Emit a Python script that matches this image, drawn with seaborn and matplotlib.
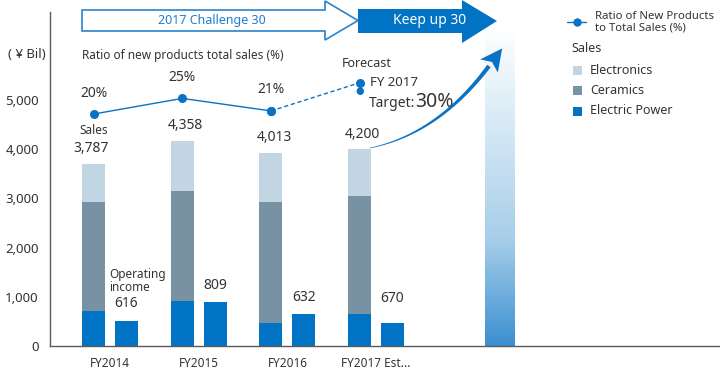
import numpy as np
import pandas as pd
import seaborn as sns
import matplotlib.pyplot as plt
from matplotlib.patches import Polygon, Rectangle
from matplotlib.colors import LinearSegmentedColormap

# data
years = ["FY2014", "FY2015", "FY2016", "FY2017 Est..."]
electric_power = [710, 920, 475, 655]
ceramics = [2220, 2230, 2460, 2395]
electronics = [770, 1020, 995, 950]
operating_income = [515, 890, 650, 475]
sales_labels = ["3,787", "4,358", "4,013", "4,200"]
income_labels = ["616", "809", "632", "670"]
ratio = [20, 25, 21, 30]
ratio_labels = ["20%", "25%", "21%"]

c_elec = "#c2d5e3"
c_cer = "#7891a3"
c_pow = "#0073c5"
c_line = "#0a72c4"
c_text = "#333333"

sns.set_style("white")
plt.rcParams["font.family"] = ["Noto Sans", "DejaVu Sans"]

fig = plt.figure(figsize=(7.2, 3.72), dpi=100)
ax = fig.add_axes([50 / 720, 26 / 372, 670 / 720, 334 / 372])

power = np.array(electric_power)
mid = power + np.array(ceramics)
top = mid + np.array(electronics)
zeros = [0, 0, 0, 0]


def layer(sales_vals, oi_vals):
    return pd.DataFrame({
        "year": years * 2,
        "kind": ["Sales"] * 4 + ["Income"] * 4,
        "value": list(sales_vals) + list(oi_vals),
    })


# stacked bars: draw cumulative totals on top of each other
layers = [
    (top, zeros, c_elec),
    (mid, zeros, c_cer),
    (power, operating_income, c_pow),
]
for s_vals, o_vals, col in layers:
    sns.barplot(data=layer(s_vals, o_vals), x="year", y="value", hue="kind",
                hue_order=["Sales", "Income"], order=years,
                palette={"Sales": col, "Income": c_pow}, dodge=True,
                width=0.74, gap=0.3, errorbar=None, saturation=1,
                linewidth=0, legend=False, ax=ax)

xs = np.arange(len(years)) - 0.185
xi = np.arange(len(years)) + 0.185

# gradient column
grad = LinearSegmentedColormap.from_list("g", ["#ffffff", "#d3e7f5", "#a6cee9", "#3b8fd1"])
ax.imshow(np.linspace(0, 1, 256).reshape(-1, 1), cmap=grad, aspect="auto",
          extent=[4.228, 4.555, 0, 6450], origin="upper", zorder=1)

ax.set_xlim(-0.676, 6.877)
ax.set_ylim(0, 6790)
ax.set_xlabel("")
ax.set_ylabel("")
ax.set_yticks([0, 1000, 2000, 3000, 4000, 5000])
ax.set_yticklabels(["0", "1,000", "2,000", "3,000", "4,000", "5,000"])
ax.tick_params(axis="y", length=0, pad=8, labelsize=9.5, labelcolor=c_text)
ax.tick_params(axis="x", length=0, pad=8, labelsize=8.5, labelcolor=c_text)
for s in ["top", "right"]:
    ax.spines[s].set_visible(False)
for s in ["left", "bottom"]:
    ax.spines[s].set_color("#5a5a5a")
    ax.spines[s].set_linewidth(1)

# bar value labels
for i in range(4):
    ax.annotate(sales_labels[i], (xs[i], top[i]), xytext=(3 if i else -2, 15),
                textcoords="offset pixels", ha="center", va="center",
                fontsize=10, color=c_text)
    ax.annotate(income_labels[i], (xi[i], operating_income[i]),
                xytext=(0, 17 if i < 3 else 24), textcoords="offset pixels",
                ha="center", va="center", fontsize=10, color=c_text)
ax.annotate("Sales", (xs[0], top[0]), xytext=(0, 33), textcoords="offset pixels",
            ha="center", va="center", fontsize=8.5, color=c_text)
ax.annotate("Operating\nincome", (xi[0], operating_income[0]), xytext=(-17, 40),
            textcoords="offset pixels", ha="left", va="center", fontsize=8.5,
            color=c_text, linespacing=1.0)

# ratio line on its own scale
ax2 = ax.twinx()
sns.lineplot(x=xs[:3], y=ratio[:3], color=c_line, marker="o", markersize=6.5,
             markeredgewidth=0, linewidth=1, ax=ax2)
sns.lineplot(x=xs[2:], y=ratio[2:], color=c_line, marker="o", markersize=6.5,
             markeredgewidth=0, linewidth=1, dashes=(3, 2), ax=ax2)
ax2.set_ylim(-54.1, 52.6)
ax2.set_xlim(ax.get_xlim())
ax2.set_axis_off()
for i in range(3):
    ax2.annotate(ratio_labels[i], (xs[i], ratio[i]), xytext=(0, 21),
                 textcoords="offset pixels", ha="center", va="center",
                 fontsize=10, color=c_text)
ax2.annotate("●", (xs[3], ratio[3]), xytext=(0, -9), textcoords="offset pixels",
             ha="center", va="center", fontsize=7, color=c_line)
ax2.annotate("Forecast", (xs[3], ratio[3]), xytext=(-18, 19),
             textcoords="offset pixels", ha="left", va="center", fontsize=9,
             color=c_text)
ax2.annotate("FY 2017", (xs[3], ratio[3]), xytext=(10, 0),
             textcoords="offset pixels", ha="left", va="center", fontsize=9.5,
             color=c_text)
ax2.annotate("Target:", (xs[3], ratio[3]), xytext=(9, -24),
             textcoords="offset pixels", ha="left", va="baseline", fontsize=10,
             color=c_text)
ax2.annotate("30%", (xs[3], ratio[3]), xytext=(56, -24),
             textcoords="offset pixels", ha="left", va="baseline", fontsize=14,
             fontweight="light", color=c_text)

# decoration layer in pixel coordinates
ov = fig.add_axes([0, 0, 1, 1])
ov.set_xlim(0, 720)
ov.set_ylim(372, 0)
ov.set_axis_off()

ov.add_patch(Polygon([(82, 10), (325, 10), (325, 1), (358, 20.5), (325, 40),
                      (325, 31), (82, 31)], closed=True, facecolor="white",
                     edgecolor="#2a83cc", linewidth=1.2))
ov.text(212, 20.5, "2017 Challenge 30", ha="center", va="center",
        fontsize=9, color="#1f7fcf", fontweight="medium")
ov.add_patch(Polygon([(358, 9), (462, 9), (462, 0), (497, 21), (462, 43),
                      (462, 33), (358, 33)], closed=True, facecolor=c_pow,
                     edgecolor="none"))
ov.text(430, 20.5, "Keep up 30", ha="center", va="center", fontsize=10,
        color="white")

# tapered curved arrow
A = np.array([370.0, 148.0])
C = np.array([438.0, 134.0])
B = np.array([489.0, 66.0])
t = np.linspace(0, 1, 60)[:, None]
pts = (1 - t) ** 2 * A + 2 * t * (1 - t) * C + t ** 2 * B
tan = 2 * (1 - t) * (C - A) + 2 * t * (B - C)
tan = tan / np.linalg.norm(tan, axis=1, keepdims=True)
nrm = np.column_stack([-tan[:, 1], tan[:, 0]])
w = (0.6 + 3.6 * t) / 2
body = np.vstack([pts + w * nrm, (pts - w * nrm)[::-1]])
ov.add_patch(Polygon(body, closed=True, facecolor=c_line, edgecolor="none"))
d = tan[-1]
n = nrm[-1]
tip = B + 22 * d
ov.add_patch(Polygon([B + 11 * n, tip, B - 11 * n, B + 5 * d], closed=True,
                     facecolor=c_line, edgecolor="none"))

ov.text(8, 55, "( ¥ Bil)", ha="left", va="center", fontsize=9.5, color=c_text)
ov.text(82, 55, "Ratio of new products total sales (%)", ha="left",
        va="center", fontsize=8.5, color=c_text)

# legend
ov.plot([567, 586], [22, 22], color=c_line, linewidth=1)
ov.plot([576.5], [22], marker="o", markersize=6, color=c_line,
        markeredgewidth=0)
ov.text(595, 22, "Ratio of New Products\nto Total Sales (%)", ha="left",
        va="center", fontsize=8.2, color=c_text, linespacing=1.1)
ov.text(571, 48, "Sales", ha="left", va="center", fontsize=9, color=c_text)
for y, lab, col in [(70, "Electronics", c_elec), (90.5, "Ceramics", c_cer),
                    (111, "Electric Power", c_pow)]:
    ov.add_patch(Rectangle((573, y - 4.5), 9, 9, facecolor=col,
                           edgecolor="none"))
    ov.text(590, y, lab, ha="left", va="center", fontsize=9, color=c_text)

fig.savefig("out.png", dpi=100)
